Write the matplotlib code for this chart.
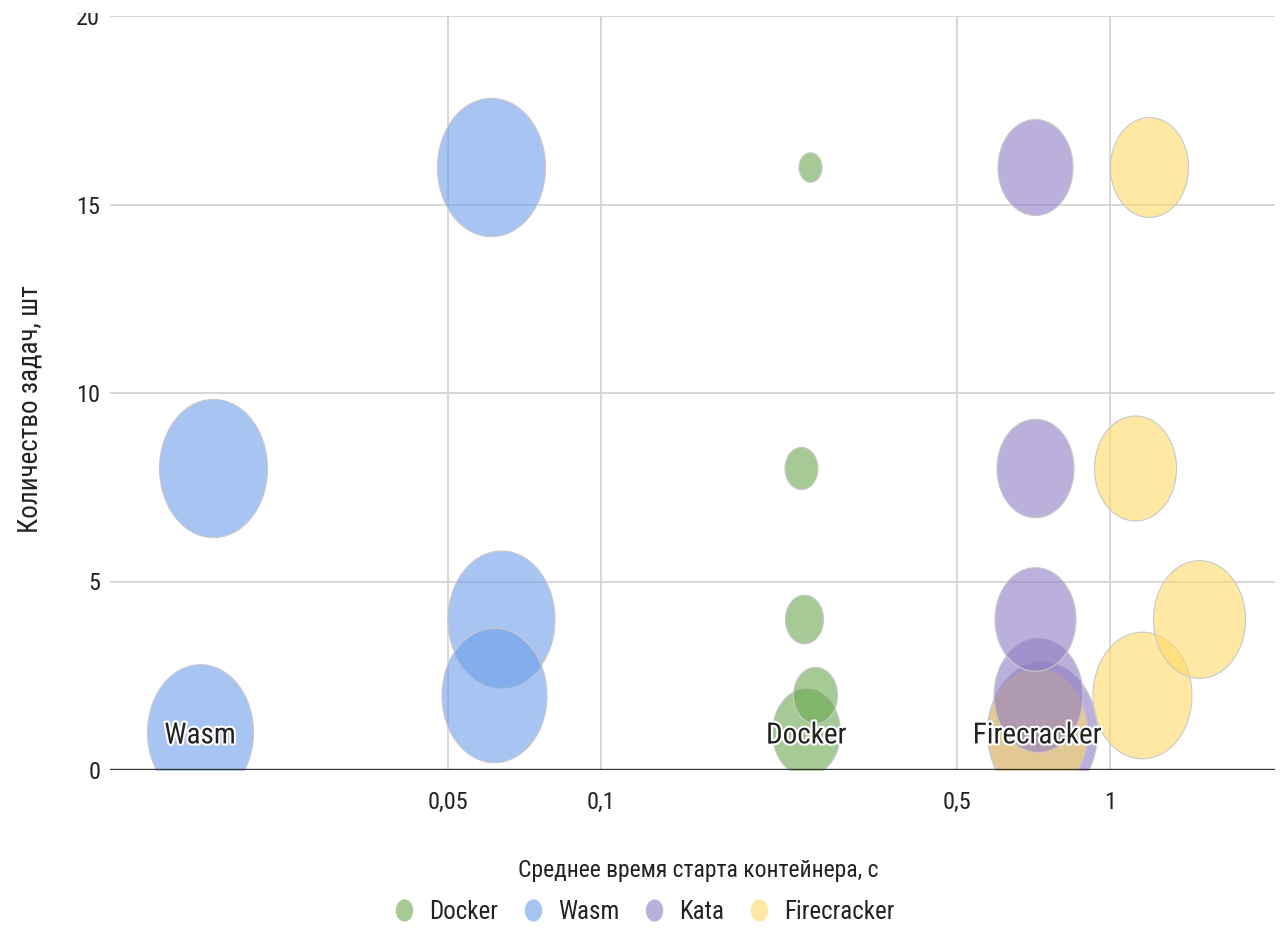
import numpy as np
import matplotlib
matplotlib.use("Agg")
import matplotlib.pyplot as plt
from matplotlib import patheffects
from matplotlib.ticker import FixedLocator, NullLocator
from matplotlib.lines import Line2D
from matplotlib.patches import Rectangle
from matplotlib.path import Path

plt.rcParams['font.family'] = ['Roboto Condensed', 'Liberation Sans Narrow',
                               'Archivo Narrow', 'DejaVu Sans']

# ---- data -------------------------------------------------------------
series = ["Docker", "Wasm", "Kata", "Firecracker"]
series_colors = ["#6aa84f", "#6d9eeb", "#8e7cc3", "#ffd966"]

# number of tasks (y)
tasks = [16, 8, 4, 2, 1]

# mean container start time, s (x)
docker_time = [0.258, 0.247, 0.250, 0.263, 0.253]
wasm_time = [0.0608, 0.0173, 0.0637, 0.0616, 0.0163]
kata_time = [0.711, 0.711, 0.714, 0.722, 0.735]
firecracker_time = [1.193, 1.120, 1.496, 1.156, 0.719]

# bubble size column
docker_size = [23, 33, 38, 44, 68]
wasm_size = [108, 108, 107, 105, 106]
kata_size = [75, 77, 81, 89, 110]
firecracker_size = [78, 82, 92, 99, 100]

x_ticks = [0.05, 0.1, 0.5, 1]
x_tick_labels = ["0,05", "0,1", "0,5", "1"]
y_ticks = [0, 5, 10, 15, 20]

x_title = "Среднее время старта контейнера, с"
y_title = "Количество задач, шт"

# ---- figure -----------------------------------------------------------
W, H, DPI = 1285, 949, 100
fig = plt.figure(figsize=(W / DPI, H / DPI), dpi=DPI)
fig.patch.set_facecolor("white")
ax = fig.add_axes([110 / W, 1 - 770 / H, 1165 / W, (770 - 16) / H])

ax.set_xscale("log")
ax.set_xlim(0.01085, 2.11)
ax.set_ylim(0, 20)

ALPHA = 0.6
ASPECT = 1.28  # bubbles are drawn taller than wide
t = np.linspace(0, 2 * np.pi, 90)
ellipse = Path(np.column_stack([np.cos(t), ASPECT * np.sin(t)]), closed=True)


def blend(color, a=ALPHA):
    rgb = np.array(matplotlib.colors.to_rgb(color))
    return tuple(1 - a * (1 - rgb))


def width_px(v, vmin=23, vmax=110, wmin=23, wmax=110):
    return wmin + (v - vmin) / (vmax - vmin) * (wmax - wmin)


xs = [docker_time, wasm_time, kata_time, firecracker_time]
ss = [docker_size, wasm_size, kata_size, firecracker_size]

points = []
for name, col, xv, sv in zip(series, series_colors, xs, ss):
    for x, y, s in zip(xv, tasks, sv):
        points.append((s, x, y, col))

# larger bubbles go underneath the smaller ones
points.sort(key=lambda p: -p[0])
for i, (s, x, y, col) in enumerate(points):
    h_pt = width_px(s) * ASPECT * 72 / DPI
    rgba = matplotlib.colors.to_rgba(col, ALPHA)
    ax.scatter([x], [y], s=h_pt ** 2, marker=ellipse, facecolor=[rgba],
               edgecolor="#c8c8c8", linewidth=0.8, zorder=3 + i * 0.01)

# bubble labels
halo = [patheffects.withStroke(linewidth=3, foreground="white")]
for name, xv in [("Wasm", wasm_time), ("Docker", docker_time),
                 ("Firecracker", firecracker_time)]:
    ax.annotate(name, (xv[-1], tasks[-1]), xytext=(0, -8),
                textcoords="offset points", ha="center", va="baseline",
                fontsize=21, color="#222222", path_effects=halo, zorder=10)

# grid / axes
ax.xaxis.set_major_locator(FixedLocator(x_ticks))
ax.xaxis.set_minor_locator(NullLocator())
ax.set_xticklabels(x_tick_labels)
ax.yaxis.set_major_locator(FixedLocator(y_ticks))
ax.set_yticklabels([str(v) for v in y_ticks])
for v in x_ticks:
    ax.axvline(v, color="#d0d0d0", lw=1.2, zorder=1)
for v in y_ticks[1:]:
    ax.axhline(v, color="#d0d0d0", lw=1.2, zorder=1)
ax.axhline(0, color="#333333", lw=1.7, zorder=6)

for sp in ax.spines.values():
    sp.set_visible(False)
ax.tick_params(axis="x", length=0, pad=15, labelsize=17.5, labelcolor="#222222")
ax.tick_params(axis="y", length=0, pad=7, labelsize=17.5, labelcolor="#222222")

fig.text(698 / W, 1 - 871 / H, x_title, ha="center", va="center",
         fontsize=17, color="#222222")
fig.text(30 / W, 1 - 409 / H, y_title, ha="center", va="center",
         rotation=90, fontsize=19.5, color="#222222")

# legend
handles = [Line2D([], [], linestyle="none", marker=ellipse, markersize=16,
                  markerfacecolor=blend(c), markeredgewidth=0)
           for c in series_colors]
fig.legend(handles, series, loc="center", bbox_to_anchor=(643 / W, 1 - 912 / H),
           ncol=4, frameon=False, fontsize=18, handlelength=1.0,
           handletextpad=0.5, columnspacing=0.9, labelcolor="#222222")

# the top strip of the canvas is blank (cuts through the "20" label)
fig.add_artist(Rectangle((0, 1 - 13 / H), 1, 13 / H, transform=fig.transFigure,
                         facecolor="white", edgecolor="none", zorder=100))

fig.savefig("out.png", dpi=DPI, facecolor="white")
